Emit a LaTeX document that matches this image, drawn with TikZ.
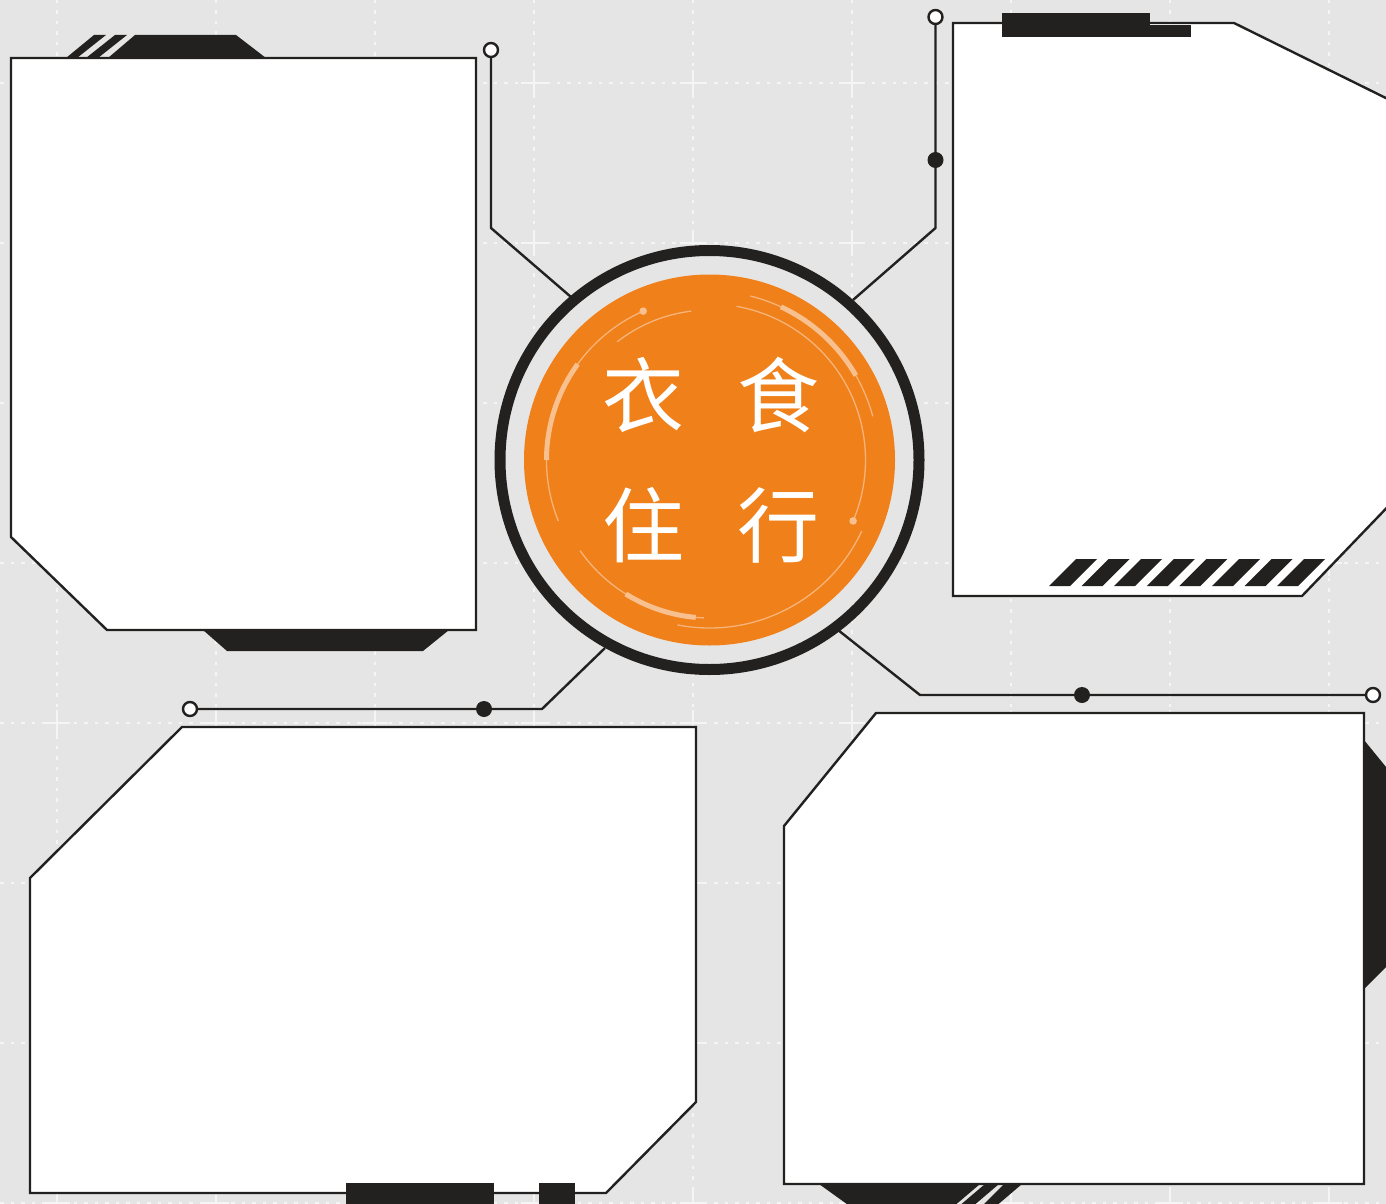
\documentclass[tikz,border=0pt]{standalone}
\usepackage{fontspec}
\newfontfamily\cjk{Noto Sans CJK SC}
\definecolor{bg}{RGB}{229,229,229}
\definecolor{ink}{RGB}{35,33,31}
\definecolor{orng}{RGB}{240,128,25}
\definecolor{peachthin}{RGB}{246,180,122}
\definecolor{peachthick}{RGB}{248,192,142}
\definecolor{gridc}{RGB}{245,245,245}
\tikzset{
  panel/.style={fill=white, draw=ink, line width=2.4pt, line join=miter},
  deco/.style={fill=ink, draw=none},
  wire/.style={draw=ink, line width=2.4pt},
  opendot/.style={circle, draw=ink, fill=white, line width=2.4pt, minimum size=14pt, inner sep=0pt},
  filldot/.style={circle, fill=ink, minimum size=16pt, inner sep=0pt},
  gridline/.style={draw=gridc, line width=1.2pt, dash pattern=on 3.5pt off 7pt},
  gridcross/.style={draw=gridc, line width=1.5pt},
  thinarc/.style={draw=peachthin, line width=1.3pt},
  thickarc/.style={draw=peachthick, line width=5pt},
  glyph/.style={text=white, font=\cjk\fontsize{82}{82}\selectfont, inner sep=0pt},
}
\begin{document}
\begin{tikzpicture}[x=1pt,y=-1pt]
\useasboundingbox (0,0) rectangle (1386,1204);
\fill[bg] (0,0) rectangle (1386,1204);
\clip (0,0) rectangle (1386,1204);
% grid
\foreach \gx in {57,216,375,534,693,852,1011,1170,1329}
  \draw[gridline] (\gx,0) -- (\gx,1204);
\foreach \gy in {83,243,403,563,723,883,1043,1203}
  \draw[gridline] (0,\gy) -- (1386,\gy);
\foreach \gx in {57,216,375,534,693,852,1011,1170,1329}
  \foreach \gy in {83,243,403,563,723,883,1043,1203}
    \draw[gridcross] (\gx-13,\gy) -- (\gx+13,\gy) (\gx,\gy-13) -- (\gx,\gy+13);

% connectors
\node[opendot] (o1) at (491,50) {};
\coordinate (k1) at (491,228);
\coordinate (r1) at (571,297);
\draw[wire] (o1) -- (k1) -- (r1);

\node[opendot] (o2) at (935.5,17) {};
\coordinate (k2) at (935.5,228);
\coordinate (r2) at (853,300);
\draw[wire] (o2) -- (k2) -- (r2);
\node[filldot] (d2) at (935.5,160) {};

\node[opendot] (o3) at (190,709) {};
\coordinate (k3) at (542,709);
\coordinate (r3) at (605,648);
\draw[wire] (o3) -- (k3) -- (r3);
\node[filldot] (d3) at (484,709) {};

\node[opendot] (o4) at (1373,695) {};
\coordinate (k4) at (920,695);
\coordinate (r4) at (838,630);
\draw[wire] (o4) -- (k4) -- (r4);
\node[filldot] (d4) at (1082,695) {};

% hub
\node[circle, draw=ink, line width=11pt, fill=bg, minimum size=419pt, inner sep=0pt] (hub) at (709.5,460) {};
\fill[orng] (hub.center) circle (185.5);
\begin{scope}[shift={(709.5,460)}, yscale=-1]
  \draw[thinarc] (97:150) arc[start angle=97, end angle=128, radius=150];
  \draw[thinarc] (114:163) arc[start angle=114, end angle=202, radius=163];
  \draw[thickarc] (144:163) arc[start angle=144, end angle=180, radius=163];
  \fill[peachthick] (114:163) circle (3.8);
  \draw[thinarc] (80:156) arc[start angle=80, end angle=-23, radius=156];
  \fill[peachthick] (-23:156) circle (3.8);
  \draw[thinarc] (15:169) arc[start angle=15, end angle=76, radius=169];
  \draw[thickarc] (30:169) arc[start angle=30, end angle=65, radius=169];
  \draw[thinarc] (215:158) arc[start angle=215, end angle=268, radius=158];
  \draw[thickarc] (238:158) arc[start angle=238, end angle=265, radius=158];
  \draw[thinarc] (259:168) arc[start angle=259, end angle=335, radius=168];
\end{scope}
\node[glyph] (t1) at (643,395) {衣};
\node[glyph] (t2) at (778,395) {食};
\node[glyph] (t3) at (643,525) {住};
\node[glyph] (t4) at (778,525) {行};

% panel 1 (top left)
\draw[panel] (11,58) -- (476,58) -- (476,630) -- (107,630) -- (11,537) -- cycle;
\fill[deco] (108,58) -- (135,35) -- (236,35) -- (266,58) -- cycle;
\fill[deco] (66,58) -- (94,35) -- (106,35) -- (77,58) -- cycle;
\fill[deco] (86,58) -- (115,35) -- (127,35) -- (98,58) -- cycle;
\fill[deco] (203,630) -- (449,630) -- (423,651) -- (227,651) -- cycle;

% panel 2 (top right)
\draw[panel] (953,23) -- (1234,23) -- (1400,105) -- (1400,494) -- (1302,596) -- (953,596) -- cycle;
\fill[deco] (1002,13) rectangle (1150,37);
\fill[deco] (1150,25) rectangle (1191,37);
\foreach \i in {0,...,7}
  \fill[deco] ({1049+32.6*\i},586) -- ++(21,0) -- ++(27,-27) -- ++(-21,0) -- cycle;

% panel 3 (bottom left)
\draw[panel] (182,727) -- (696,727) -- (696,1102) -- (606,1193) -- (30,1193) -- (30,878) -- cycle;
\fill[deco] (346,1183) rectangle (494,1210);
\fill[deco] (539,1183) rectangle (575,1210);

% panel 4 (bottom right)
\draw[panel] (876,713) -- (1364,713) -- (1364,1184) -- (784,1184) -- (784,826) -- cycle;
\fill[deco] (1364,740) -- (1386,767) -- (1400,767) -- (1400,967) -- (1386,967) -- (1364,989) -- cycle;
\fill[deco] (819,1184) -- (980,1184) -- (953,1207) -- (851,1207) -- cycle;
\fill[deco] (985,1184) -- (999,1184) -- (972,1207) -- (958,1207) -- cycle;
\fill[deco] (1004,1184) -- (1022,1184) -- (995,1207) -- (981,1207) -- cycle;
\end{tikzpicture}
\end{document}
